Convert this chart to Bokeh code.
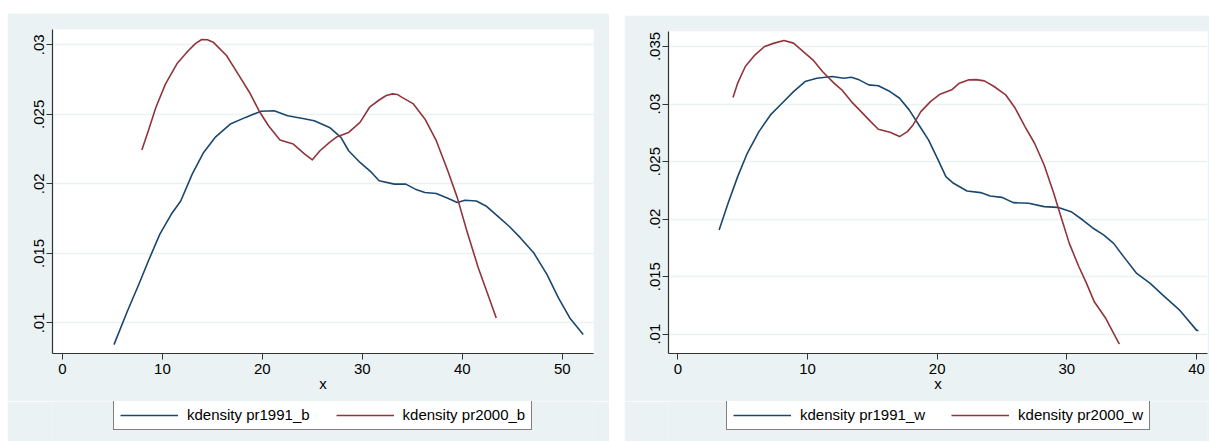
from bokeh.plotting import figure
from bokeh.layouts import row, column
from bokeh.models import Range1d, FixedTicker, CustomJSTickFormatter, Legend, LegendItem
from bokeh.embed import file_html
from bokeh.resources import INLINE

# ---- Panel 1 (b) data ----
b91_x = [5.15, 6.49, 7.63, 8.59, 9.73, 10.88, 11.83, 12.98, 14.12, 15.27, 16.79, 18.32, 19.85,
         21.18, 22.52, 24.05, 25.19, 26.72, 27.86, 28.63, 29.77, 30.92, 31.68, 33.2, 34.35, 35.3,
         36.26, 37.4, 38.55, 39.5, 40.27, 41.41, 42.37, 43.51, 44.66, 45.8, 47.14, 48.47, 49.62,
         50.76, 52.1]
b91_y = [.00844, .01084, .01276, .01445, .01637, .01781, .01877, .0207, .02226, .02334, .0243,
         .02478, .02522, .02526, .0249, .0247, .02454, .02406, .02334, .02238, .02154, .02082,
         .02022, .01998, .01998, .01962, .01938, .01931, .01897, .01866, .01882, .01877, .01841,
         .01769, .01697, .01613, .01505, .01349, .0118, .01036, .00916]
b00_x = [7.94, 8.59, 9.35, 10.31, 11.45, 12.6, 13.3, 13.93, 14.5, 15.08, 16.41, 17.56, 18.7, 19.66,
         20.61, 21.76, 23.09, 24.24, 25.0, 25.76, 26.72, 27.48, 28.63, 29.77, 30.73, 31.68, 32.4,
         33.02, 33.5, 33.97, 35.11, 36.26, 37.4, 38.55, 39.5, 40.46, 41.6, 42.56, 43.4]
b00_y = [.02243, .02382, .02551, .02719, .02863, .02959, .03008, .03038, .03036, .03019, .02923,
         .02791, .02659, .02526, .02418, .02315, .02286, .02214, .02173, .02238, .02298, .02339,
         .0237, .02442, .02551, .02603, .02635, .02647, .02643, .02622, .02575, .02467, .0231,
         .02094, .01901, .01661, .01397, .01204, .01036]

# ---- Panel 2 (w) data ----
w91_x = [3.18, 3.87, 4.61, 5.35, 6.25, 7.14, 8.03, 8.92, 9.81, 10.71, 11.9, 12.79, 13.38, 13.98,
         14.72, 15.46, 16.36, 17.1, 17.84, 18.59, 19.33, 20.07, 20.67, 21.26, 22.3, 23.35, 24.09,
         24.98, 25.87, 27.06, 28.25, 29.29, 30.33, 31.23, 31.97, 32.86, 33.61, 34.35, 35.39,
         36.43, 37.47, 38.66, 40.0, 40.15]
w91_y = [.01905, .02137, .02369, .02572, .0276, .02905, .03007, .03108, .03195, .03224, .03239,
         .03224, .03233, .0321, .03166, .03158, .03108, .0305, .02949, .02818, .02688, .02514,
         .02369, .02311, .02244, .0223, .02201, .02189, .02143, .02137, .02108, .02102, .02064,
         .01992, .01925, .01861, .01789, .01678, .01528, .01441, .01333, .01214, .01035, .01030]
w00_x = [4.25, 4.61, 5.2, 5.95, 6.69, 7.43, 8.18, 8.92, 9.67, 10.41, 11.15, 12.04, 12.64, 13.38,
         14.13, 14.87, 15.46, 16.36, 17.1, 17.7, 18.14, 18.74, 19.48, 20.22, 21.12, 21.71, 22.45,
         23.0, 23.64, 24.39, 25.28, 26.02, 26.77, 27.51, 28.25, 28.99, 29.59, 30.19, 30.93, 31.52,
         32.12, 33.01, 33.61, 34.05]
w00_y = [.03056, .03181, .03326, .03427, .035, .03529, .03552, .03529, .03456, .03384, .03282,
         .03181, .03123, .03021, .02934, .02847, .02781, .02755, .02717, .0276, .02818, .02934,
         .03021, .03085, .03123, .03181, .0321, .03212, .03201, .03152, .0308, .02963, .02804,
         .02659, .0247, .02224, .02006, .01789, .01586, .01441, .01281, .01136, .01006, .00913]

b_xticks = [0, 10, 20, 30, 40, 50]
b_yticks = [0.01, 0.015, 0.02, 0.025, 0.03]
w_xticks = [0, 10, 20, 30, 40]
w_yticks = [0.01, 0.015, 0.02, 0.025, 0.03, 0.035]
b_labels = ["kdensity pr1991_b", "kdensity pr2000_b"]
w_labels = ["kdensity pr1991_w", "kdensity pr2000_w"]
# off-range sample used only so the legend swatches have a renderer to draw from
swatch_x = [0.0, 1.0]
swatch_y = [5.0, 5.0]

NAVY = "#1A476F"
MAROON = "#90353B"
BG = "#EAF2F3"
FONT = "Liberation Sans"
TICK_FS = "15px"
LEG_FS = "15px"


def make_panel(width, height, margin, borders, xr, yr, xticks, yticks, s1, s2):
    p = figure(width=width, height=height, output_backend="svg", toolbar_location=None,
               x_range=Range1d(*xr), y_range=Range1d(*yr),
               min_border_left=borders[0], min_border_right=borders[1],
               min_border_top=borders[2], min_border_bottom=borders[3])
    p.margin = margin
    p.border_fill_color = BG
    p.background_fill_color = "white"
    p.outline_line_color = None
    p.xgrid.grid_line_color = None
    p.ygrid.grid_line_color = BG
    p.ygrid.grid_line_width = 1.5

    p.xaxis.ticker = FixedTicker(ticks=xticks)
    p.yaxis.ticker = FixedTicker(ticks=yticks)
    p.yaxis.formatter = CustomJSTickFormatter(
        code="return String(Number(tick.toFixed(4))).replace(/^0\\./, '.');")
    p.yaxis.major_label_orientation = "vertical"
    for ax in (p.xaxis[0], p.yaxis[0]):
        ax.axis_line_color = "#333333"
        ax.axis_line_width = 1.2
        ax.major_tick_line_color = "#333333"
        ax.major_tick_out = 6
        ax.major_tick_in = 0
        ax.minor_tick_line_color = None
        ax.major_label_text_font = FONT
        ax.major_label_text_font_size = TICK_FS
        ax.major_label_text_color = "black"
    p.xaxis.major_label_standoff = 4
    p.yaxis.major_label_standoff = 2
    p.xaxis.axis_label = "x"
    p.xaxis.axis_label_text_font = FONT
    p.xaxis.axis_label_text_font_size = TICK_FS
    p.xaxis.axis_label_text_font_style = "normal"
    p.xaxis.axis_label_text_color = "black"
    p.xaxis.axis_label_standoff = -2

    p.line(s1[0], s1[1], line_color=NAVY, line_width=1.6, line_join="round")
    p.line(s2[0], s2[1], line_color=MAROON, line_width=1.6, line_join="round")
    return p


def make_legend(width, height, margin, borders, labels, loc):
    lf = figure(width=width, height=height, output_backend="svg", toolbar_location=None,
                x_range=Range1d(0, 1), y_range=Range1d(0, 1),
                x_axis_type=None, y_axis_type=None,
                min_border_left=borders[0], min_border_right=borders[1],
                min_border_top=0, min_border_bottom=0)
    lf.margin = margin
    lf.border_fill_color = BG
    lf.background_fill_color = BG
    lf.outline_line_color = None
    lf.grid.grid_line_color = None
    g1 = lf.line(swatch_x, swatch_y, line_color=NAVY, line_width=1.6)
    g2 = lf.line(swatch_x, swatch_y, line_color=MAROON, line_width=1.6)
    leg = Legend(items=[LegendItem(label=labels[0], renderers=[g1]),
                        LegendItem(label=labels[1], renderers=[g2])],
                 orientation="horizontal", location=loc)
    leg.border_line_color = "black"
    leg.border_line_width = 1
    leg.background_fill_color = "white"
    leg.background_fill_alpha = 1
    leg.label_text_font = FONT
    leg.label_text_font_size = LEG_FS
    leg.label_text_color = "black"
    leg.glyph_width = 58
    leg.glyph_height = 16
    leg.label_height = 16
    leg.label_standoff = 9
    leg.spacing = 26
    leg.padding = 6
    leg.margin = 0
    lf.add_layout(leg, "center")
    return lf


p1 = make_panel(602, 388, (13, 0, 0, 7), (45, 16, 16, 48), (-1.0, 53.13), (0.0078, 0.0311),
                b_xticks, b_yticks, (b91_x, b91_y), (b00_x, b00_y))
l1 = make_legend(602, 40, (0, 0, 0, 7), (45, 16), b_labels, (61, 11))
p2 = make_panel(585, 386, (15, 0, 0, 15), (44, 2, 16, 48), (-0.725, 40.85), (0.00832, 0.0363),
                w_xticks, w_yticks, (w91_x, w91_y), (w00_x, w00_y))
l2 = make_legend(585, 40, (0, 0, 0, 15), (44, 2), w_labels, (58, 11))

c1 = column(p1, l1, spacing=0)
c2 = column(p2, l2, spacing=0)
layout = row(c1, c2, spacing=0)
layout.margin = 0
open("out.html", "w").write(file_html(layout, INLINE))
